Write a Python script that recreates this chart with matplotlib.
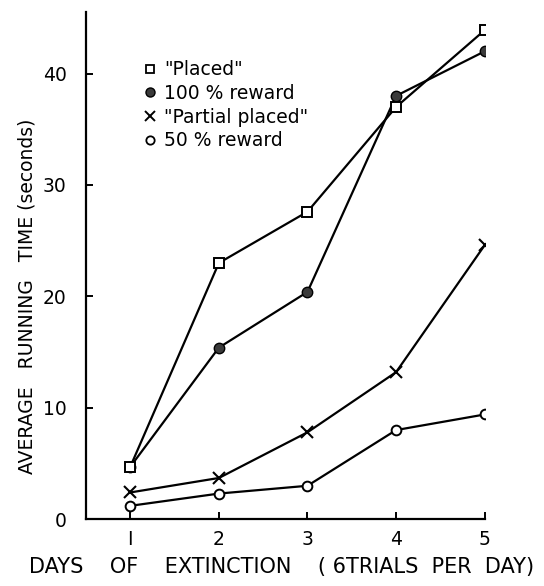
import matplotlib

matplotlib.use("Agg")
import matplotlib.pyplot as plt  # noqa: E402
from matplotlib.lines import Line2D  # noqa: E402

# values
days = [1, 2, 3, 4, 5]
placed = [4.7, 23.0, 27.6, 37.0, 43.9]
reward_100 = [4.7, 15.4, 20.4, 38.0, 42.0]
partial_placed = [2.4, 3.7, 7.8, 13.2, 24.6]
reward_50 = [1.2, 2.3, 3.0, 8.0, 9.4]

labels = ['"Placed"', "100 % reward", '"Partial placed"', "50 % reward"]
y_ticks = [0, 10, 20, 30, 40]
x_tick_labels = ["I", "2", "3", "4", "5"]

plt.rcParams["font.family"] = ["DejaVu Sans"]

fig = plt.figure(figsize=(5.44, 5.86), dpi=100)
ax = fig.add_axes([0.158, 0.114, 0.733, 0.865])

line_kw = dict(color="black", linewidth=1.6)
ax.plot(days, reward_100, marker="o", markersize=7.5, markerfacecolor="#3a3a3a",
        markeredgecolor="black", **line_kw)
ax.plot(days, placed, marker="s", markersize=7.5, markerfacecolor="white",
        markeredgecolor="black", markeredgewidth=1.4, **line_kw)
ax.plot(days, partial_placed, marker="x", markersize=8, markeredgewidth=1.5, **line_kw)
ax.plot(days, reward_50, marker="o", markersize=7, markerfacecolor="white",
        markeredgecolor="black", markeredgewidth=1.4, **line_kw)

ax.set_xlim(0.5, 5.0)
ax.set_ylim(0, 45.5)
ax.set_xticks(days)
ax.set_xticklabels(x_tick_labels)
ax.set_yticks(y_ticks)
ax.tick_params(direction="in", length=5, width=1.4, labelsize=13.5)
ax.tick_params(axis="x", pad=8)
ax.tick_params(axis="y", pad=14)

for side in ("top", "right"):
    ax.spines[side].set_visible(False)
for side in ("left", "bottom"):
    ax.spines[side].set_linewidth(1.6)

ax.set_ylabel("AVERAGE   RUNNING   TIME (seconds)", fontsize=13.5)
ax.yaxis.set_label_coords(-0.125, 0.44)
ax.set_xlabel("DAYS    OF    EXTINCTION    ( 6TRIALS  PER  DAY)", fontsize=15)
ax.xaxis.set_label_coords(0.49, -0.075)

handles = [
    Line2D([], [], linestyle="none", marker="s", markersize=6, markerfacecolor="white",
           markeredgecolor="black", markeredgewidth=1.3),
    Line2D([], [], linestyle="none", marker="o", markersize=6.5, markerfacecolor="#3a3a3a",
           markeredgecolor="black"),
    Line2D([], [], linestyle="none", marker="x", markersize=7, color="black",
           markeredgewidth=1.4),
    Line2D([], [], linestyle="none", marker="o", markersize=6, markerfacecolor="white",
           markeredgecolor="black", markeredgewidth=1.3),
]
ax.legend(handles, labels, loc="upper left", bbox_to_anchor=(0.127, 0.92), frameon=False,
          fontsize=13.5, handlelength=0.6, handletextpad=0.45, labelspacing=0.25,
          borderaxespad=0)

fig.savefig("out.png", dpi=100)
